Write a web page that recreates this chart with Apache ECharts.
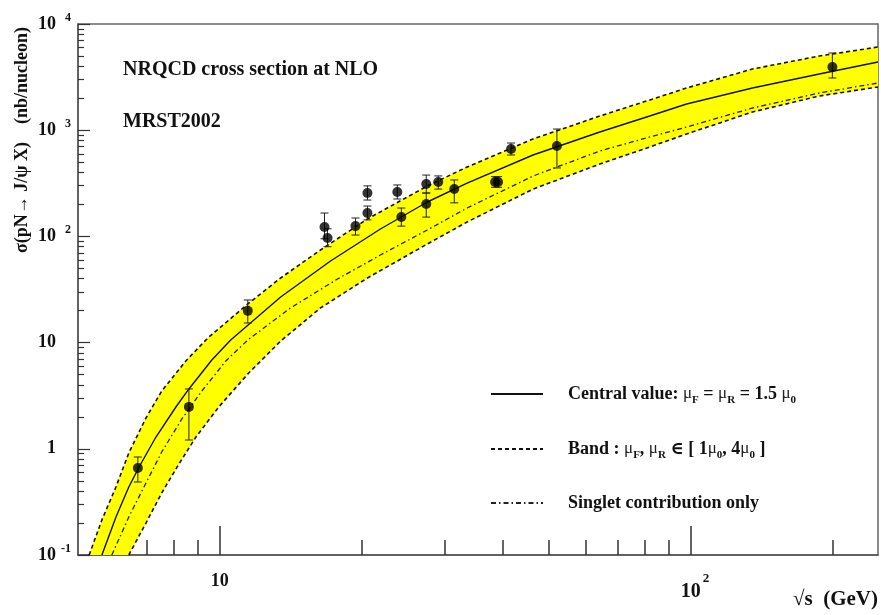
<!DOCTYPE html>
<html>
<head>
<meta charset="utf-8">
<script src="https://cdn.jsdelivr.net/npm/echarts@6/dist/echarts.min.js"></script>
<style>
  html, body { margin: 0; padding: 0; background: #fff; }
  #chart { width: 881px; height: 615px; }
</style>
</head>
<body>
<div id="chart"></div>
<script>
// sqrt(s) [GeV] and sigma(pN -> J/psi X) [nb/nucleon]
const dataS = [6.70, 8.60, 11.47, 16.69, 16.94, 19.42, 20.59, 20.59, 23.83, 24.30, 27.45, 27.45, 29.11, 31.48, 38.43, 39.0, 41.56, 52.01, 200];
const dataSigma = [0.659, 2.48, 19.9, 122.7, 96.6, 125, 256, 166, 262, 152, 311, 202, 325, 279, 325, 325, 665, 710, 3937];
const dataLow = [0.487, 1.21, 15.3, 95, 80, 103, 220, 143, 225, 125, 256, 152, 279, 207, 290, 290, 584, 441, 3102];
const dataHigh = [0.837, 3.66, 25.2, 166, 118, 149, 299, 193, 305, 185, 378, 256, 371, 340, 365, 365, 757, 1026, 5333];

// central value mu_F = mu_R = 1.5 mu_0
const centralS = [5.62, 6.02, 6.41, 6.74, 7.32, 8.07, 8.60, 9.62, 10.55, 13.47, 17.19, 21.94, 27.59, 33.52, 46.27, 64.14, 81.87, 98.06, 135.3, 187.6, 250];
const centralSigma = [0.1, 0.228, 0.437, 0.674, 1.291, 2.475, 3.66, 6.86, 10.58, 26.9, 58.7, 117.4, 210.8, 318, 584, 962, 1360, 1765, 2497, 3382, 4387];

// band edges
const upperS = [5.28, 5.62, 6.02, 6.41, 6.97, 7.53, 8.47, 9.43, 11.47, 13.47, 16.37, 20.59, 27.59, 33.52, 46.27, 64.14, 81.87, 98.06, 135.3, 187.6, 250];
const upperSigma = [0.1, 0.214, 0.437, 0.913, 1.95, 3.50, 6.71, 11.05, 23.1, 40.6, 74.5, 146, 298, 450, 826, 1360, 1925, 2497, 3770, 4996, 6072];
const lowerS = [6.41, 6.97, 7.53, 8.19, 8.90, 9.95, 11.52, 13.47, 16.37, 20.59, 27.59, 33.52, 46.27, 64.14, 81.87, 98.06, 135.3, 187.6, 250];
const lowerSigma = [0.1, 0.2001, 0.384, 0.719, 1.291, 2.475, 5.17, 10.35, 21.2, 40.6, 84.8, 136.6, 279, 480, 695, 921, 1484, 2099, 2552];

// singlet contribution only
const singletS = [5.90, 6.41, 6.97, 7.53, 8.31, 9.16, 10.30, 11.47, 14.14, 17.78, 21.94, 27.59, 33.52, 46.27, 64.14, 81.87, 98.06, 135.3, 187.6, 250];
const singletSigma = [0.1, 0.228, 0.476, 0.933, 1.91, 3.50, 6.71, 10.58, 21.2, 39.7, 66.8, 114.9, 185, 370, 637, 863, 1072, 1618, 2240, 2782];

// axis ticks and labels
const xMajorTicks = [10, 100];
const xMinorTicks = [6, 7, 8, 9, 20, 30, 40, 50, 60, 70, 80, 90, 200];
const xTickLabels = ['{b|10}', '{p| }{bx|10}{ex|2}'];
const yMajorTicks = [0.1, 1, 10, 100, 1000, 10000];
const yTickLabels = ['{b|10}{e|-1}', '{b|1}{e| }', '{b|10}{e| }', '{b|10}{e|2}', '{b|10}{e|3}', '{b|10}{e|4}'];

const yMinorTicks = [];
yMajorTicks.slice(0, -1).forEach(d => {
    for (let k = 2; k <= 9; k++) yMinorTicks.push(+(k * d).toPrecision(3));
});

const serif = "'Liberation Serif', 'DejaVu Serif', serif";

function pick(values, texts, v) {
    for (let i = 0; i < values.length; i++) {
        if (Math.abs(Math.log10(v / values[i])) < 1e-6) return texts[i];
    }
    return '';
}
function pairs(xs, ys) {
    return xs.map((x, i) => [x, ys[i]]);
}

const chart = echarts.init(document.getElementById('chart'));

const labelRich = {
    b: { fontFamily: serif, fontWeight: 'bold', fontSize: 18, color: '#111' },
    bx: { fontFamily: serif, fontWeight: 'bold', fontSize: 20, color: '#111' },
    e: { fontFamily: serif, fontWeight: 'bold', fontSize: 12, color: '#111', width: 11, padding: [0, 0, 12, 4] },
    ex: { fontFamily: serif, fontWeight: 'bold', fontSize: 13, color: '#111', padding: [0, 0, 26, 2] },
    p: { width: 9 }
};

const legendRich = {
    sp: { width: 20 },
    t: { fontFamily: serif, fontWeight: 'bold', fontSize: 18, color: '#111' },
    g: { fontFamily: serif, fontSize: 17, color: '#222' },
    s: { fontFamily: serif, fontWeight: 'bold', fontSize: 11, color: '#111', padding: [13, 0, 0, 0] }
};
const legendText = {
    'Central value': '{sp| }{t|Central value: }{g|μ}{s|F}{t| = }{g|μ}{s|R}{t| = 1.5 }{g|μ}{s|0}',
    'Band': '{sp| }{t|Band : }{g|μ}{s|F}{t|, }{g|μ}{s|R}{t| ∈ [ 1}{g|μ}{s|0}{t|, 4}{g|μ}{s|0}{t| ]}',
    'Singlet': '{sp| }{t|Singlet contribution only}'
};
function legendFor(name, top) {
    return {
        data: [name], left: 490, top: top, padding: 0,
        itemWidth: 52, itemHeight: 14, selectedMode: false,
        itemStyle: { opacity: 0 },
        formatter: n => legendText[n],
        textStyle: { rich: legendRich }
    };
}

const option = {
    animation: false,
    backgroundColor: '#fff',
    title: [
        { text: 'NRQCD cross section at NLO', left: 123, top: 60, padding: 0,
          textStyle: { fontFamily: serif, fontWeight: 'bold', fontSize: 20, color: '#111' } },
        { text: 'MRST2002', left: 123, top: 112, padding: 0,
          textStyle: { fontFamily: serif, fontWeight: 'bold', fontSize: 20, color: '#111' } }
    ],
    legend: [
        legendFor('Central value', 385),
        legendFor('Band', 440),
        legendFor('Singlet', 494)
    ],
    grid: {
        left: 78, top: 24, width: 800, height: 531,
        show: true, borderColor: '#666', borderWidth: 1.5,
        outerBoundsMode: 'none'
    },
    xAxis: [
        {
            type: 'log', logBase: 10, min: 5, max: 250, position: 'bottom',
            axisLine: { show: true, onZero: false, lineStyle: { color: '#555', width: 1.5 } },
            axisTick: { show: true, inside: true, length: 29, customValues: xMajorTicks,
                        lineStyle: { color: '#333', width: 1.5 } },
            axisLabel: { show: true, customValues: xMajorTicks, margin: 17,
                         formatter: v => pick(xMajorTicks, xTickLabels, v), rich: labelRich },
            splitLine: { show: false }
        },
        {
            type: 'log', logBase: 10, min: 5, max: 250, position: 'bottom',
            axisLine: { show: false },
            axisTick: { show: true, inside: true, length: 15, customValues: xMinorTicks,
                        lineStyle: { color: '#333', width: 1.5 } },
            axisLabel: { show: false },
            splitLine: { show: false }
        }
    ],
    yAxis: [
        {
            type: 'log', logBase: 10, min: 0.1, max: 10000, position: 'left',
            axisLine: { show: true, onZero: false, lineStyle: { color: '#555', width: 1.5 } },
            axisTick: { show: true, inside: true, length: 12, customValues: yMajorTicks,
                        lineStyle: { color: '#333', width: 1.2 } },
            axisLabel: { show: true, customValues: yMajorTicks, margin: 7,
                         formatter: v => pick(yMajorTicks, yTickLabels, v), rich: labelRich },
            splitLine: { show: false }
        },
        {
            type: 'log', logBase: 10, min: 0.1, max: 10000, position: 'left',
            axisLine: { show: false },
            axisTick: { show: true, inside: true, length: 6, customValues: yMinorTicks,
                        lineStyle: { color: '#333', width: 1.2 } },
            axisLabel: { show: false },
            splitLine: { show: false }
        }
    ],
    graphic: [
        { type: 'text', x: 22, y: 140, rotation: Math.PI / 2,
          style: { text: 'σ(pN→ J/ψ X)    (nb/nucleon)', fill: '#111',
                   font: 'bold 18px ' + serif, align: 'center', verticalAlign: 'middle' } },
        { type: 'text', x: 878, y: 600,
          style: { text: '√s  (GeV)', fill: '#111',
                   font: 'bold 21px ' + serif, align: 'right', verticalAlign: 'middle' } }
    ],
    series: [
        {
            name: 'bandFill', type: 'custom', z: 1, silent: true,
            data: [[upperS[0], upperSigma[0]]],
            renderItem: (params, api) => {
                const pts = pairs(upperS, upperSigma).map(p => api.coord(p))
                    .concat(pairs(lowerS, lowerSigma).reverse().map(p => api.coord(p)));
                return { type: 'polygon', shape: { points: pts }, style: { fill: '#ffff00', stroke: null } };
            }
        },
        {
            name: 'Band', type: 'line', z: 2, symbol: 'none', data: pairs(upperS, upperSigma),
            lineStyle: { color: '#111', width: 1.6, type: [4, 3] }, itemStyle: { color: '#111' }
        },
        {
            name: 'Band', type: 'line', z: 2, symbol: 'none', data: pairs(lowerS, lowerSigma),
            lineStyle: { color: '#111', width: 1.6, type: [4, 3] }, itemStyle: { color: '#111' }
        },
        {
            name: 'Singlet', type: 'line', z: 2, symbol: 'none', data: pairs(singletS, singletSigma),
            lineStyle: { color: '#222', width: 1.3, type: [5, 3, 1.5, 3] }, itemStyle: { color: '#222' }
        },
        {
            name: 'Central value', type: 'line', z: 3, symbol: 'none', data: pairs(centralS, centralSigma),
            lineStyle: { color: '#111', width: 1.4 }, itemStyle: { color: '#111' }
        },
        {
            name: 'errors', type: 'custom', z: 4, silent: true,
            data: dataS.map((s, i) => [s, dataLow[i], dataHigh[i]]),
            encode: { x: 0, y: [1, 2] },
            renderItem: (params, api) => {
                const lo = api.coord([api.value(0), api.value(1)]);
                const hi = api.coord([api.value(0), api.value(2)]);
                const st = { stroke: '#222', lineWidth: 1 };
                return {
                    type: 'group',
                    children: [
                        { type: 'line', shape: { x1: lo[0], y1: lo[1], x2: hi[0], y2: hi[1] }, style: st },
                        { type: 'line', shape: { x1: lo[0] - 4, y1: lo[1], x2: lo[0] + 4, y2: lo[1] }, style: st },
                        { type: 'line', shape: { x1: hi[0] - 4, y1: hi[1], x2: hi[0] + 4, y2: hi[1] }, style: st }
                    ]
                };
            }
        },
        {
            name: 'data', type: 'scatter', z: 5, symbol: 'circle', symbolSize: 10,
            data: pairs(dataS, dataSigma), itemStyle: { color: '#000' }
        }
    ]
};

chart.setOption(option);
</script>
</body>
</html>
